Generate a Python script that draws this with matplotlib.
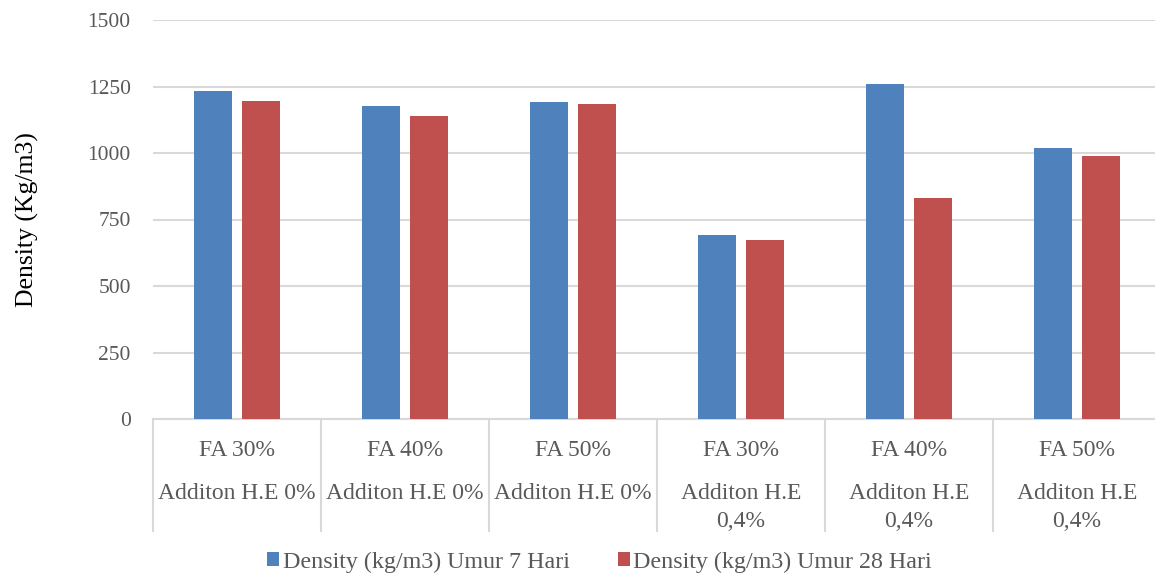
import numpy as np
import matplotlib
matplotlib.use("Agg")
import matplotlib.pyplot as plt
import matplotlib.transforms as mtransforms

plt.rcParams.update({"font.family": "Liberation Serif"})

# Data
fa_labels = ["FA 30%", "FA 40%", "FA 50%", "FA 30%", "FA 40%", "FA 50%"]
he_labels = ["Additon H.E 0%", "Additon H.E 0%", "Additon H.E 0%",
             "Additon H.E\n0,4%", "Additon H.E\n0,4%", "Additon H.E\n0,4%"]
density_7 = [1233, 1176, 1191, 693, 1258, 1019]
density_28 = [1194, 1140, 1183, 672, 831, 990]
series_names = ["Density (kg/m3) Umur 7 Hari", "Density (kg/m3) Umur 28 Hari"]
yticks = [0, 250, 500, 750, 1000, 1250, 1500]

BLUE = "#4F81BD"
RED = "#C0504D"
GRAY = "#595959"
GRID = "#D9D9D9"

fig = plt.figure(figsize=(11.55, 5.74), dpi=100)
ax = fig.add_axes([153 / 1155, 155 / 574, 1008 / 1155, 399 / 574])

x = np.arange(len(fa_labels))
w = 0.227
off = 0.143
b1 = ax.bar(x - off, density_7, w, color=BLUE, label=series_names[0], zorder=3)
b2 = ax.bar(x + off, density_28, w, color=RED, label=series_names[1], zorder=3)

ax.set_xlim(-0.5, len(fa_labels) - 0.5)
ax.set_ylim(0, 1500)
ax.set_yticks(yticks)
ax.set_yticklabels([str(t) for t in yticks], fontsize=15.5, color=GRAY)
ax.tick_params(axis="y", length=0, pad=16)
ax.set_xticks([])
ax.grid(axis="y", color=GRID, linewidth=1.5, zorder=0)
for s in ["top", "right", "left"]:
    ax.spines[s].set_visible(False)
ax.spines["bottom"].set_color(GRID)
ax.spines["bottom"].set_linewidth(1.5)

ax.set_ylabel("Density (Kg/m3)", fontsize=18.5, color="black")
ax.yaxis.set_label_coords(-0.113, 0.5)

# multi-level category axis
trans = mtransforms.blended_transform_factory(ax.transData, ax.transAxes)
row2_y = [-0.186, -0.256]
for i in range(len(fa_labels)):
    ax.plot([i - 0.5, i - 0.5], [0, -0.281], transform=trans, color=GRID,
            linewidth=1.5, clip_on=False)
    ax.text(i, -0.078, fa_labels[i], transform=trans, ha="center", va="center",
            fontsize=17, color=GRAY)
    for j, line in enumerate(he_labels[i].split("\n")):
        ax.text(i, row2_y[j], line, transform=trans, ha="center", va="center",
                fontsize=17, color=GRAY)

leg = fig.legend(handles=[b1, b2], loc="center", bbox_to_anchor=(0.519, 1 - 562 / 574),
                 ncol=2, frameon=False, fontsize=17.3, handlelength=0.5, handleheight=0.5,
                 handletextpad=0.15, columnspacing=2.0)
for t in leg.get_texts():
    t.set_color(GRAY)

fig.savefig("out.png", dpi=100)
